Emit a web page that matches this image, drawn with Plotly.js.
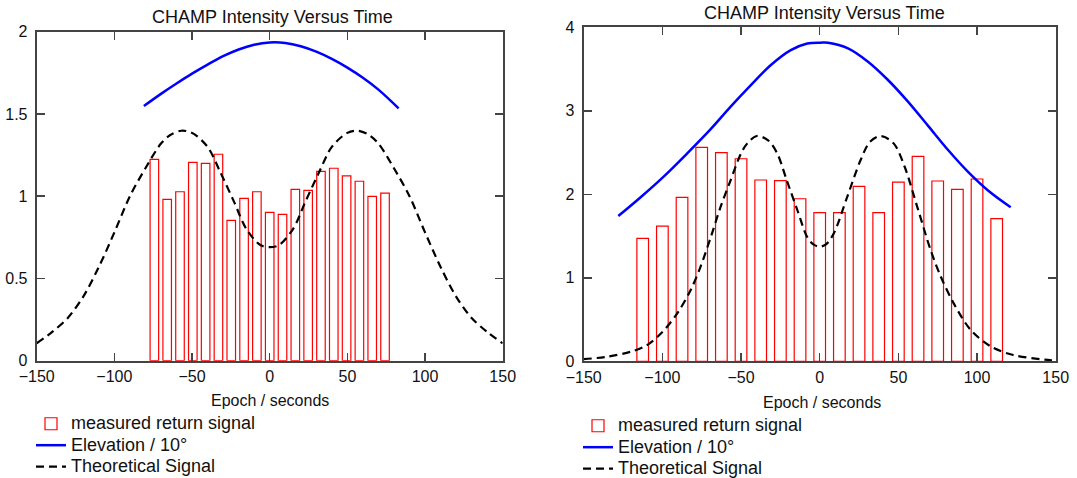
<!DOCTYPE html>
<html>
<head>
<meta charset="utf-8">
<script src="https://cdn.plot.ly/plotly-3.0.1.min.js"></script>
<style>html,body{margin:0;padding:0;background:#fff;}#chart{width:1077px;height:478px;}</style>
</head>
<body>
<div id="chart"></div>
<script>
// ---------- data: left panel ----------
const leftBarX = [-74.25, -66, -57.75, -49.5, -41.25, -33, -24.75, -16.5, -8.25, 0, 8.25, 16.5, 24.75, 33, 41.25, 49.5, 57.75, 66, 74.25];
const leftBarY = [1.224, 0.981, 1.027, 1.206, 1.2, 1.255, 0.853, 0.987, 1.027, 0.902, 0.89, 1.042, 1.036, 1.151, 1.17, 1.123, 1.091, 0.999, 1.019];
const leftElevX = [-81, -70, -60, -50, -40, -30, -20, -10, 0, 10, 20, 30, 40, 50, 60, 70, 83];
const leftElevY = [1.548, 1.622, 1.685, 1.745, 1.80, 1.851, 1.892, 1.921, 1.935, 1.932, 1.912, 1.879, 1.835, 1.782, 1.72, 1.648, 1.534];
const leftTheoX = [-150, -140, -130, -120, -110, -100, -90, -80, -70, -64, -57, -50, -40, -32, -23, -15, -6, 0, 6, 15, 23, 32, 40, 50, 57, 64, 70, 80, 90, 100, 110, 120, 130, 140, 150];
const leftTheoY = [0.106, 0.175, 0.26, 0.39, 0.57, 0.78, 1.0, 1.17, 1.32, 1.372, 1.398, 1.385, 1.30, 1.15, 0.967, 0.80, 0.703, 0.69, 0.703, 0.80, 0.967, 1.15, 1.30, 1.385, 1.398, 1.372, 1.32, 1.17, 1.0, 0.78, 0.57, 0.39, 0.26, 0.175, 0.106];

// ---------- data: right panel ----------
const rightBarX = [-112.5, -100, -87.5, -75, -62.5, -50, -37.5, -25, -12.5, 0, 12.5, 25, 37.5, 50, 62.5, 75, 87.5, 100, 112.5];
const rightBarY = [1.473, 1.62, 1.964, 2.563, 2.498, 2.426, 2.171, 2.163, 1.947, 1.78, 1.78, 2.096, 1.78, 2.147, 2.455, 2.159, 2.06, 2.183, 1.708];
const rightElevX = [-128, -113.8, -99, -84.2, -69.3, -56.6, -43.9, -31.2, -18.4, -7.9, 0.6, 5.3, 18, 30.7, 43.4, 56.1, 68.9, 81.6, 94.3, 107, 121.4];
const rightElevY = [1.74, 1.965, 2.215, 2.49, 2.78, 3.05, 3.305, 3.545, 3.726, 3.806, 3.816, 3.815, 3.748, 3.588, 3.369, 3.11, 2.82, 2.53, 2.268, 2.045, 1.844];
const rightTheoX = [-150, -135, -120, -110, -100, -90, -82, -76, -69, -63, -57, -50, -46, -40, -33, -27, -21, -14, -8, -4, 0, 4, 9, 17.5, 26, 32, 39, 47, 54, 62, 70.5, 77, 85, 96, 109, 123, 145, 150];
const rightTheoY = [0.025, 0.055, 0.115, 0.19, 0.35, 0.59, 0.854, 1.12, 1.5, 1.85, 2.15, 2.49, 2.61, 2.698, 2.65, 2.49, 2.17, 1.80, 1.49, 1.40, 1.372, 1.40, 1.533, 1.97, 2.41, 2.63, 2.698, 2.61, 2.33, 1.85, 1.333, 1.013, 0.70, 0.375, 0.175, 0.075, 0.016, 0.01];

const titleText = 'CHAMP Intensity Versus Time';
const xTitleText = 'Epoch / seconds';
const seriesNames = ['measured return signal', 'Elevation / 10°', 'Theoretical Signal'];

// ---------- styling ----------
const W = 1077, H = 478;
const FONT = 'Liberation Sans, Arial, Helvetica, sans-serif';
const lname = s => '<span style="font-size:18px">' + s + '</span>';

function panelTraces(bx, by, ex, ey, tx, ty, xa, ya, leg, bw) {
  return [
    {type: 'bar', x: bx, y: by, width: bw, xaxis: xa, yaxis: ya, legend: leg,
     name: lname(seriesNames[0]),
     marker: {color: 'rgba(255,255,255,0)', line: {color: '#ff0000', width: 1.2}}},
    {type: 'scatter', mode: 'lines', x: ex, y: ey, xaxis: xa, yaxis: ya, legend: leg,
     name: lname(seriesNames[1]),
     line: {color: '#0000ff', width: 2.5, shape: 'spline', smoothing: 1}},
    {type: 'scatter', mode: 'lines', x: tx, y: ty, xaxis: xa, yaxis: ya, legend: leg,
     name: lname(seriesNames[2]),
     line: {color: '#000000', width: 2.2, dash: '8px,5px', shape: 'spline', smoothing: 0.9}}
  ];
}

const traces = [].concat(
  panelTraces(leftBarX, leftBarY, leftElevX, leftElevY, leftTheoX, leftTheoY, 'x', 'y', 'legend', 5.5),
  panelTraces(rightBarX, rightBarY, rightElevX, rightElevY, rightTheoX, rightTheoY, 'x2', 'y2', 'legend2', 7.4)
);

function axisStyle(extra) {
  return Object.assign({
    showline: true, linecolor: '#444', linewidth: 2, mirror: 'ticks',
    ticks: 'inside', ticklen: 8, tickwidth: 1.5, tickcolor: '#444',
    showgrid: false, zeroline: false, fixedrange: true, automargin: false,
    tickfont: {family: FONT, size: 16, color: '#111'}
  }, extra);
}

const legendStyle = {
  xanchor: 'left', yanchor: 'top', orientation: 'v', traceorder: 'normal',
  bgcolor: 'rgba(0,0,0,0)', borderwidth: 0, tracegroupgap: 0,
  font: {family: FONT, size: 14.2, color: '#111'}
};

const layout = {
  width: W, height: H,
  margin: {l: 0, r: 0, t: 0, b: 0, pad: 0, autoexpand: false},
  paper_bgcolor: '#ffffff', plot_bgcolor: '#ffffff',
  font: {family: FONT, size: 16, color: '#111'},
  showlegend: true,
  xaxis: axisStyle({domain: [36.7 / W, 502.7 / W], range: [-150, 150], tick0: 0, dtick: 50, anchor: 'y'}),
  yaxis: axisStyle({domain: [117.3 / H, 446.3 / H], range: [0, 2], tick0: 0, dtick: 0.5, anchor: 'x', ticklabelstandoff: 4}),
  xaxis2: axisStyle({domain: [583.7 / W, 1055.7 / W], range: [-150, 150], tick0: 0, dtick: 50, anchor: 'y2'}),
  yaxis2: axisStyle({domain: [116.7 / H, 450.7 / H], range: [0, 4], tick0: 0, dtick: 1, anchor: 'x2', ticklabelstandoff: 4}),
  legend: Object.assign({}, legendStyle, {x: 31 / W, y: (H - 408) / H}),
  legend2: Object.assign({}, legendStyle, {x: 578 / W, y: (H - 410) / H}),
  annotations: [
    {text: titleText, xref: 'paper', yref: 'paper', x: 272 / W, y: (H - 17) / H, xanchor: 'center', yanchor: 'middle', showarrow: false, font: {family: FONT, size: 18, color: '#111'}},
    {text: titleText, xref: 'paper', yref: 'paper', x: 824 / W, y: (H - 13) / H, xanchor: 'center', yanchor: 'middle', showarrow: false, font: {family: FONT, size: 18, color: '#111'}},
    {text: xTitleText, xref: 'paper', yref: 'paper', x: 270 / W, y: (H - 400) / H, xanchor: 'center', yanchor: 'middle', showarrow: false, font: {family: FONT, size: 16, color: '#111'}},
    {text: xTitleText, xref: 'paper', yref: 'paper', x: 822 / W, y: (H - 402) / H, xanchor: 'center', yanchor: 'middle', showarrow: false, font: {family: FONT, size: 16, color: '#111'}}
  ]
};

Plotly.newPlot('chart', traces, layout, {staticPlot: true, displayModeBar: false});
</script>
</body>
</html>
